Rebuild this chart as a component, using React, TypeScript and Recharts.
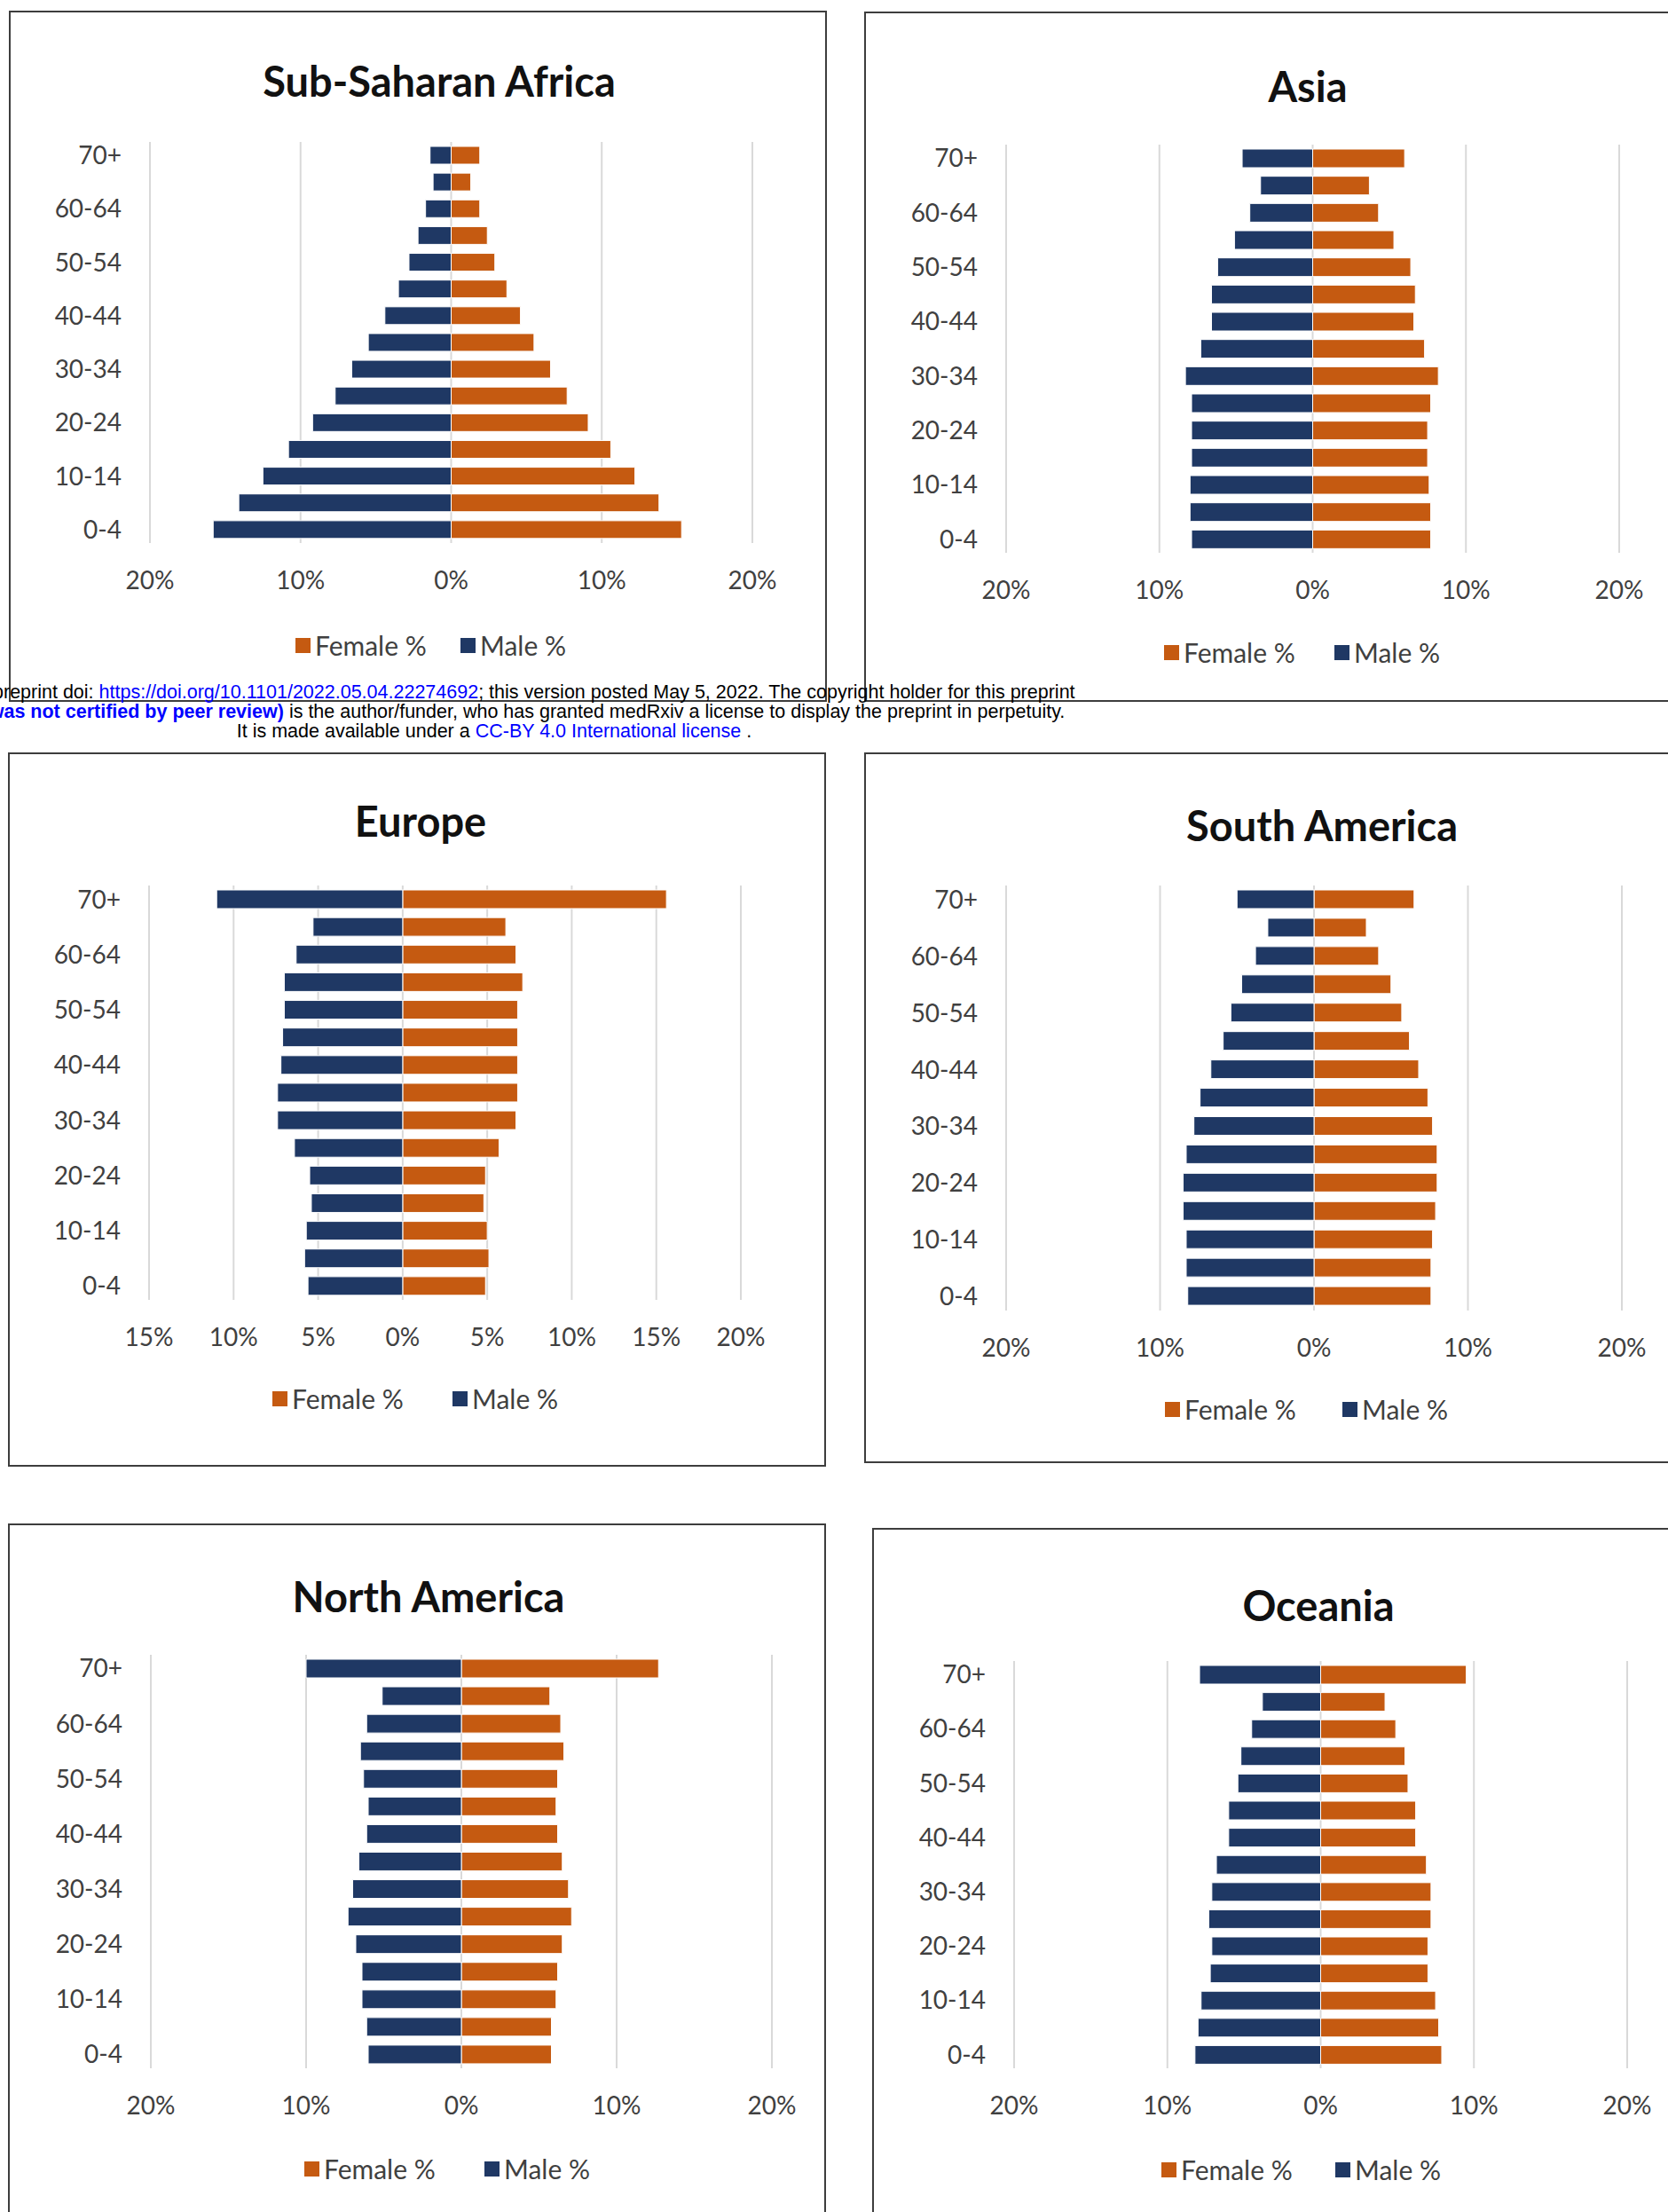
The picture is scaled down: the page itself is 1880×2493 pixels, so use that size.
import { BarChart, Bar, XAxis, YAxis, CartesianGrid } from 'recharts';

const FEMALE_COLOR = '#C55A11';
const MALE_COLOR = '#1F3864';
const TEXT_COLOR = '#404040';

// age groups, bottom to top
const ages = ['0-4', '5-9', '10-14', '15-19', '20-24', '25-29', '30-34', '35-39', '40-44', '45-49', '50-54', '55-59', '60-64', '65-69', '70+'];

// % of population per age group (male shown on the left side)
const ssaFemale = [15.3, 13.8, 12.2, 10.6, 9.1, 7.7, 6.6, 5.5, 4.6, 3.7, 2.9, 2.4, 1.9, 1.3, 1.9];
const ssaMale = [15.8, 14.1, 12.5, 10.8, 9.2, 7.7, 6.6, 5.5, 4.4, 3.5, 2.8, 2.2, 1.7, 1.2, 1.4];

const asiaFemale = [7.7, 7.7, 7.6, 7.5, 7.5, 7.7, 8.2, 7.3, 6.6, 6.7, 6.4, 5.3, 4.3, 3.7, 6.0];
const asiaMale = [7.9, 8.0, 8.0, 7.9, 7.9, 7.9, 8.3, 7.3, 6.6, 6.6, 6.2, 5.1, 4.1, 3.4, 4.6];

const europeFemale = [4.9, 5.1, 5.0, 4.8, 4.9, 5.7, 6.7, 6.8, 6.8, 6.8, 6.8, 7.1, 6.7, 6.1, 15.6];
const europeMale = [5.6, 5.8, 5.7, 5.4, 5.5, 6.4, 7.4, 7.4, 7.2, 7.1, 7.0, 7.0, 6.3, 5.3, 11.0];

const southAmFemale = [7.6, 7.6, 7.7, 7.9, 8.0, 8.0, 7.7, 7.4, 6.8, 6.2, 5.7, 5.0, 4.2, 3.4, 6.5];
const southAmMale = [8.2, 8.3, 8.3, 8.5, 8.5, 8.3, 7.8, 7.4, 6.7, 5.9, 5.4, 4.7, 3.8, 3.0, 5.0];

const northAmFemale = [5.8, 5.8, 6.1, 6.2, 6.5, 7.1, 6.9, 6.5, 6.2, 6.1, 6.2, 6.6, 6.4, 5.7, 12.7];
const northAmMale = [6.0, 6.1, 6.4, 6.4, 6.8, 7.3, 7.0, 6.6, 6.1, 6.0, 6.3, 6.5, 6.1, 5.1, 10.0];

const oceaniaFemale = [7.9, 7.7, 7.5, 7.0, 7.0, 7.2, 7.2, 6.9, 6.2, 6.2, 5.7, 5.5, 4.9, 4.2, 9.5];
const oceaniaMale = [8.2, 8.0, 7.8, 7.2, 7.1, 7.3, 7.1, 6.8, 6.0, 6.0, 5.4, 5.2, 4.5, 3.8, 7.9];

const ticks20 = [-20, -10, 0, 10, 20];
const ticksEurope = [-15, -10, -5, 0, 5, 10, 15, 20];

interface Rect {
    left: number;
    top: number;
    width: number;
    height: number;
}

interface PanelProps {
    title: string;
    female: number[];
    male: number[];
    ticks: number[];
    box: Rect;
    plot: Rect;
    titlePos: [number, number];
    legendY: number;
    femaleX: number;
    maleX: number;
}

function LegendItem({ x, y, color, label }: { x: number; y: number; color: string; label: string }) {
    return (
        <div style={{ position: 'absolute', left: x, top: y - 17, height: 34, display: 'flex', alignItems: 'center', whiteSpace: 'nowrap' }}>
            <div style={{ width: 17, height: 17, background: color, marginRight: 5 }} />
            <span style={{ fontFamily: 'Lato', fontSize: 30, color: TEXT_COLOR }}>{label}</span>
        </div>
    );
}

function Panel({ title, female, male, ticks, box, plot, titlePos, legendY, femaleX, maleX }: PanelProps) {
    const data = ages.map((age, i) => ({ age, female: female[i], male: -male[i] }));
    const axisW = 160;
    const padRight = 60;
    const barSize = Math.round((plot.height / ages.length) * 0.67);
    const tickStyle = { fill: TEXT_COLOR, fontSize: 28, fontFamily: 'Lato' };

    return (
        <>
            <div
                style={{
                    position: 'absolute',
                    left: box.left,
                    top: box.top,
                    width: box.width,
                    height: box.height,
                    border: '2px solid #3d3d3d',
                    boxSizing: 'border-box',
                }}
            />
            <div
                style={{
                    position: 'absolute',
                    left: titlePos[0] - 400,
                    top: titlePos[1] - 28,
                    width: 800,
                    height: 56,
                    lineHeight: '56px',
                    textAlign: 'center',
                    fontFamily: 'Lato',
                    fontWeight: 700,
                    fontSize: 47,
                    color: '#111',
                }}
            >
                {title}
            </div>
            <div style={{ position: 'absolute', left: plot.left - axisW, top: plot.top - 10 }}>
                <BarChart
                    width={plot.width + axisW + padRight}
                    height={plot.height + 70}
                    data={data}
                    layout="vertical"
                    stackOffset="sign"
                    barSize={barSize}
                    margin={{ top: 10, right: padRight, left: 0, bottom: 0 }}
                >
                    <CartesianGrid horizontal={false} stroke="#D9D9D9" strokeWidth={2} />
                    <XAxis
                        type="number"
                        domain={[ticks[0], ticks[ticks.length - 1]]}
                        ticks={ticks}
                        allowDataOverflow
                        tickFormatter={(v: number) => `${Math.abs(v)}%`}
                        axisLine={false}
                        tickLine={false}
                        tickSize={0}
                        tickMargin={32}
                        height={60}
                        tick={tickStyle}
                    />
                    <YAxis
                        type="category"
                        dataKey="age"
                        reversed
                        interval={1}
                        width={axisW}
                        axisLine={false}
                        tickLine={false}
                        tickSize={0}
                        tickMargin={32}
                        tick={tickStyle}
                    />
                    <Bar dataKey="female" name="Female %" stackId="p" fill={FEMALE_COLOR} stroke="#fff" strokeWidth={1} isAnimationActive={false} />
                    <Bar dataKey="male" name="Male %" stackId="p" fill={MALE_COLOR} stroke="#fff" strokeWidth={1} isAnimationActive={false} />
                </BarChart>
            </div>
            <LegendItem x={femaleX} y={legendY} color={FEMALE_COLOR} label="Female %" />
            <LegendItem x={maleX} y={legendY} color={MALE_COLOR} label="Male %" />
        </>
    );
}

export default function App() {
    const blue = '#0000FF';
    return (
        <div style={{ position: 'absolute', left: 0, top: 0, width: 1880, height: 2493, overflow: 'hidden', background: '#fff' }}>
            <Panel
                title="Sub-Saharan Africa"
                female={ssaFemale}
                male={ssaMale}
                ticks={ticks20}
                box={{ left: 10, top: 12, width: 922, height: 779 }}
                plot={{ left: 169, top: 160, width: 679, height: 452 }}
                titlePos={[495, 91]}
                legendY={727}
                femaleX={333}
                maleX={519}
            />
            <Panel
                title="Asia"
                female={asiaFemale}
                male={asiaMale}
                ticks={ticks20}
                box={{ left: 974, top: 13, width: 1000, height: 778 }}
                plot={{ left: 1134, top: 163, width: 691, height: 460 }}
                titlePos={[1474, 97]}
                legendY={735}
                femaleX={1312}
                maleX={1504}
            />
            <Panel
                title="Europe"
                female={europeFemale}
                male={europeMale}
                ticks={ticksEurope}
                box={{ left: 9, top: 848, width: 922, height: 805 }}
                plot={{ left: 168, top: 998, width: 667, height: 467 }}
                titlePos={[474, 925]}
                legendY={1576}
                femaleX={307}
                maleX={510}
            />
            <Panel
                title="South America"
                female={southAmFemale}
                male={southAmMale}
                ticks={ticks20}
                box={{ left: 974, top: 848, width: 1000, height: 801 }}
                plot={{ left: 1134, top: 998, width: 694, height: 479 }}
                titlePos={[1490, 930]}
                legendY={1588}
                femaleX={1313}
                maleX={1513}
            />
            <Panel
                title="North America"
                female={northAmFemale}
                male={northAmMale}
                ticks={ticks20}
                box={{ left: 9, top: 1717, width: 922, height: 900 }}
                plot={{ left: 170, top: 1865, width: 700, height: 466 }}
                titlePos={[483, 1799]}
                legendY={2444}
                femaleX={343}
                maleX={546}
            />
            <Panel
                title="Oceania"
                female={oceaniaFemale}
                male={oceaniaMale}
                ticks={ticks20}
                box={{ left: 983, top: 1722, width: 1000, height: 900 }}
                plot={{ left: 1143, top: 1872, width: 691, height: 459 }}
                titlePos={[1486, 1809]}
                legendY={2445}
                femaleX={1309}
                maleX={1505}
            />
            <div
                style={{
                    position: 'absolute',
                    left: 557 - 1000,
                    top: 769,
                    width: 2000,
                    textAlign: 'center',
                    whiteSpace: 'nowrap',
                    fontFamily: '"Liberation Sans", Arial, sans-serif',
                    fontSize: 21.5,
                    lineHeight: '22px',
                    color: '#000',
                }}
            >
                <div>
                    medRxiv preprint doi: <span style={{ color: blue }}>https://doi.org/10.1101/2022.05.04.22274692</span>; this version posted May 5, 2022. The copyright holder for this preprint
                </div>
                <div>
                    <span style={{ color: blue, fontWeight: 700 }}>(which was not certified by peer review)</span> is the author/funder, who has granted medRxiv a license to display the preprint in perpetuity.
                </div>
                <div>
                    It is made available under a <span style={{ color: blue }}>CC-BY 4.0 International license</span> .
                </div>
            </div>
        </div>
    );
}
